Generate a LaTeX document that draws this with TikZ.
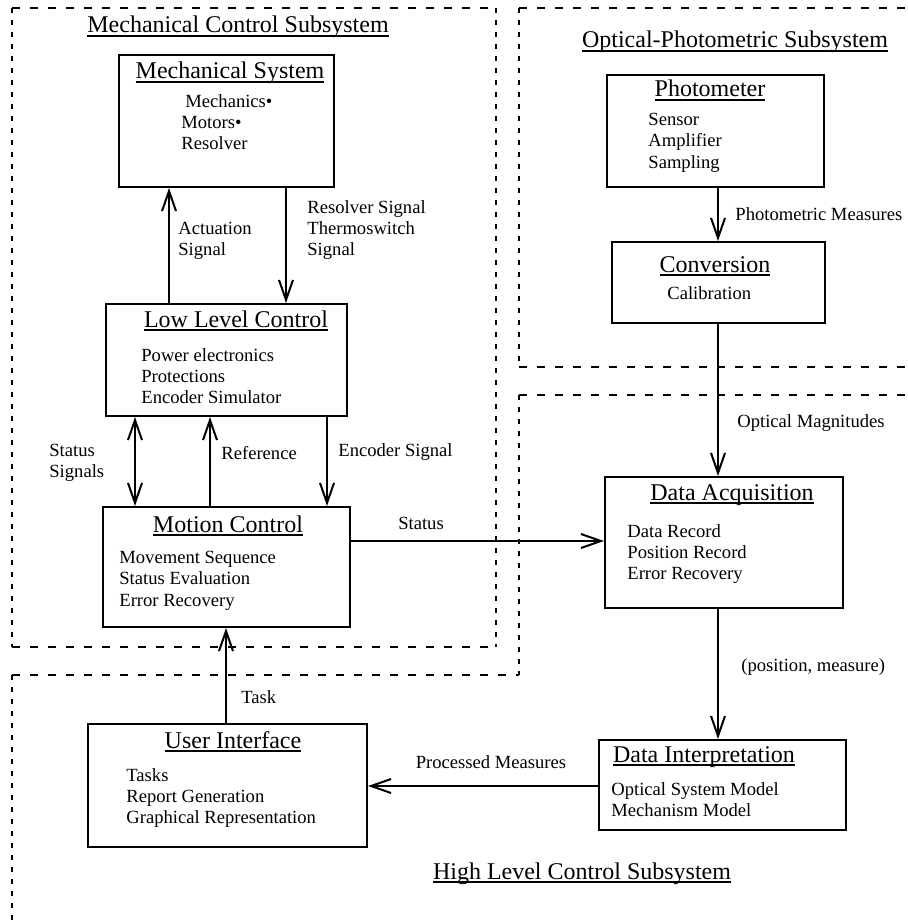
\documentclass[tikz,border=0pt]{standalone}
\usepackage{fontspec}
\setmainfont{Liberation Serif}
\usetikzlibrary{arrows.meta}
\newcommand{\titleline}[1]{\setbox0=\hbox{#1}\rlap{\rule[-1.8pt]{\wd0}{0.8pt}}\box0}

\begin{document}
\begin{tikzpicture}[x=0.5pt,y=-0.5pt,
  box/.style={draw,line width=1pt,inner sep=0pt},
  boxtitle/.style={anchor=base,inner sep=0pt,font=\fontsize{12}{14}\selectfont},
  boxtext/.style={anchor=north west,inner sep=0pt,align=left,font=\fontsize{9.3}{10.6}\selectfont},
  lbl/.style={boxtext},
  sig/.style={line width=1pt,-{Straight Barb[length=10pt,width=7pt]}},
  sigboth/.style={line width=1pt,{Straight Barb[length=10pt,width=7pt]}-{Straight Barb[length=10pt,width=7pt]}},
  hline/.style={line width=1pt,dash pattern=on 4pt off 5pt},
  vline/.style={line width=1pt,dash pattern=on 2.5pt off 3.5pt}]
\useasboundingbox (0,0) rectangle (908,920);
\draw[hline] (12,8) -- (496,8);
\draw[hline] (12,647) -- (496,647);
\draw[vline] (12,8) -- (12,647);
\draw[vline] (496,8) -- (496,647);
\draw[hline] (519,8) -- (912,8);
\draw[hline] (519,367) -- (912,367);
\draw[vline] (519,8) -- (519,367);
\draw[hline] (519,395) -- (912,395);
\draw[vline] (519,395) -- (519,675);
\draw[hline] (12,675) -- (519,675);
\draw[vline] (12,675) -- (12,925);
\node[boxtitle] (mcs) at (238,33) {\titleline{Mechanical Control Subsystem}};
\node[boxtitle] (ops) at (735,48) {\titleline{Optical-Photometric Subsystem}};
\node[boxtitle] (hls) at (582,879) {\titleline{High Level Control Subsystem}};
\node[box,minimum width=107.5pt,minimum height=66pt] (mech) at (226.5,121) {};
\node[boxtitle] (mechT) at (230,79) {\titleline{Mechanical System}};
\node[boxtext] (mechB) at (181,94) {\hspace*{2pt}Mechanics\textbullet\\Motors\textbullet\\Resolver};
\node[box,minimum width=120.5pt,minimum height=56pt] (lowlevel) at (226.5,360) {};
\node[boxtitle] (lowlevelT) at (236,327) {\titleline{Low Level Control}};
\node[boxtext] (lowlevelB) at (141,348) {Power electronics\\Protections\\Encoder Simulator};
\node[box,minimum width=123.5pt,minimum height=60pt] (motion) at (226.5,567) {};
\node[boxtitle] (motionT) at (228,532) {\titleline{Motion Control}};
\node[boxtext] (motionB) at (119,551) {Movement Sequence\\Status Evaluation\\Error Recovery};
\node[box,minimum width=139.5pt,minimum height=61.5pt] (ui) at (227.5,785.5) {};
\node[boxtitle] (uiT) at (233,748) {\titleline{User Interface}};
\node[boxtext] (uiB) at (126,768) {Tasks\\Report Generation\\Graphical Representation};
\node[box,minimum width=108.5pt,minimum height=56pt] (photo) at (715.5,131) {};
\node[boxtitle] (photoT) at (710,97) {\titleline{Photometer}};
\node[boxtext] (photoB) at (648,113) {Sensor\\Amplifier\\Sampling};
\node[box,minimum width=106.5pt,minimum height=40.5pt] (conv) at (718.5,282.5) {};
\node[boxtitle] (convT) at (715,272) {\titleline{Conversion}};
\node[boxtext] (convB) at (667,286) {Calibration};
\node[box,minimum width=119pt,minimum height=65.5pt] (acq) at (724,542.5) {};
\node[boxtitle] (acqT) at (732,500) {\titleline{Data Acquisition}};
\node[boxtext] (acqB) at (627,524) {Data Record\\Position Record\\Error Recovery};
\node[box,minimum width=123.5pt,minimum height=45pt] (interp) at (722.5,785) {};
\node[boxtitle] (interpT) at (704,762) {\titleline{Data Interpretation}};
\node[boxtext] (interpB) at (611,782) {Optical System Model\\Mechanism Model};
\coordinate (actX) at (169,0);
\coordinate (resX) at (286,0);
\coordinate (stsX) at (135,0);
\coordinate (refX) at (210,0);
\coordinate (encX) at (327,0);
\coordinate (optX) at (718,0);
\coordinate (taskX) at (226,0);
\coordinate (stY) at (0,541);
\coordinate (pcY) at (0,786);
\draw[sig] (lowlevel.north -| actX) -- (mech.south -| actX);
\draw[sig] (mech.south -| resX) -- (lowlevel.north -| resX);
\draw[sigboth] (lowlevel.south -| stsX) -- (motion.north -| stsX);
\draw[sig] (motion.north -| refX) -- (lowlevel.south -| refX);
\draw[sig] (lowlevel.south -| encX) -- (motion.north -| encX);
\draw[sig] (motion.east |- stY) -- (acq.west |- stY);
\draw[sig] (photo.south -| optX) -- (conv.north -| optX);
\draw[sig] (conv.south -| optX) -- (acq.north -| optX);
\draw[sig] (acq.south -| optX) -- (interp.north -| optX);
\draw[sig] (ui.north -| taskX) -- (motion.south -| taskX);
\draw[sig] (interp.west |- pcY) -- (ui.east |- pcY);
\node[lbl] (actL) at (178,222) {Actuation\\Signal};
\node[lbl] (resL) at (307,200) {Resolver Signal\\Thermoswitch\\Signal};
\node[lbl] (stsL) at (49,444) {Status\\Signals};
\node[lbl,anchor=west] (refL) at (221,453) {Reference};
\node[lbl,anchor=west] (encL) at (338,452) {Encoder Signal};
\node[lbl,anchor=center] (stL) at (421,523) {Status};
\node[lbl,anchor=west] (phmL) at (735,214) {Photometric Measures};
\node[lbl,anchor=west] (omL) at (737,423) {Optical Magnitudes};
\node[lbl,anchor=west] (pmL) at (741,667) {(position, measure)};
\node[lbl,anchor=west] (taskL) at (241,697) {Task};
\node[lbl,anchor=center] (pcL) at (491,762) {Processed Measures};
\end{tikzpicture}
\end{document}
